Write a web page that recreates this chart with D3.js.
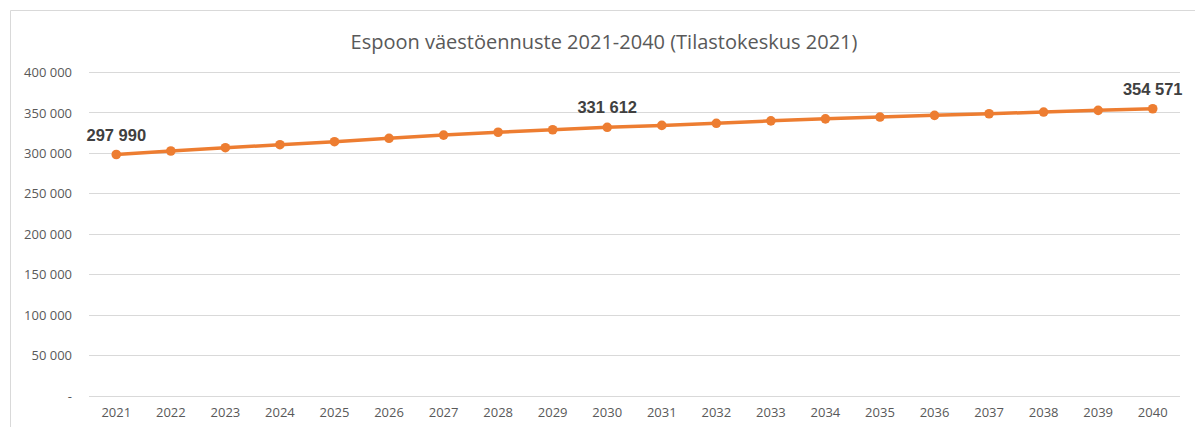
<!DOCTYPE html>
<html>
<head>
  <meta charset="utf-8">
  <script src="https://d3js.org/d3.v7.min.js"></script>
  <style>
    body { margin: 0; background: #fff; }
    .grid line { stroke: #d9d9d9; stroke-width: 1px; }
    .axis text { fill: #595959; font-family: "Open Sans", sans-serif; font-size: 13px; }
    .line { fill: none; stroke: #ED7D31; stroke-width: 3.5px; }
    .dot { fill: #ED7D31; }
    .lbl { fill: #404040; font-family: "Liberation Sans", Arial, sans-serif; font-size: 16.5px; font-weight: bold; }
    .title { fill: #595959; font-family: "Open Sans", sans-serif; font-size: 20px; }
  </style>
</head>
<body>
  <svg width="1195" height="427"></svg>
  <script>
    var years = ["2021","2022","2023","2024","2025","2026","2027","2028","2029","2030",
                 "2031","2032","2033","2034","2035","2036","2037","2038","2039","2040"];
    var population = [297990, 302300, 306400, 310100, 313800, 318000, 322000, 325500, 328600, 331612,
                      334000, 336600, 339600, 342100, 344300, 346400, 348400, 350500, 352600, 354571];
    var yTicks = [0, 50000, 100000, 150000, 200000, 250000, 300000, 350000, 400000];
    var labelled = ["2021", "2030", "2040"];

    var svg = d3.select("svg"),
      margin = { top: 72, right: 15, bottom: 32, left: 89 },
      width = 1180 - margin.left,
      height = 395.5 - margin.top;

    // chart frame (only top and left edges visible in the crop)
    svg.append("path")
      .attr("d", "M10.5,427 V10.5 H1195")
      .attr("fill", "none")
      .attr("stroke", "#d9d9d9");

    svg.append("text")
      .attr("class", "title")
      .attr("x", 604)
      .attr("y", 49)
      .attr("text-anchor", "middle")
      .text("Espoon väestöennuste 2021-2040 (Tilastokeskus 2021)");

    var g = svg.append("g")
      .attr("transform", "translate(" + margin.left + "," + margin.top + ")");

    var x = d3.scaleBand().domain(years).range([0, width]);
    var y = d3.scaleLinear().domain([0, 400000]).range([height, 0]);

    var fmt = function(d) {
      return d === 0 ? "-" : d3.format(",")(d).replace(/,/g, " ");
    };

    g.append("g")
      .attr("class", "grid")
      .selectAll("line")
      .data(yTicks)
      .enter().append("line")
      .attr("x1", 0).attr("x2", width)
      .attr("y1", function(d) { return Math.round(y(d)) + 0.5; })
      .attr("y2", function(d) { return Math.round(y(d)) + 0.5; });

    var yAxis = g.append("g")
      .attr("class", "axis")
      .call(d3.axisLeft(y).tickValues(yTicks).tickFormat(fmt).tickSize(0).tickPadding(17));
    yAxis.select(".domain").remove();
    yAxis.selectAll("text").attr("dy", "0.35em");

    var xAxis = g.append("g")
      .attr("class", "axis")
      .attr("transform", "translate(0," + height + ")")
      .call(d3.axisBottom(x).tickSize(0).tickPadding(12));
    xAxis.select(".domain").remove();

    var line = d3.line()
      .x(function(d, i) { return x(years[i]) + x.bandwidth() / 2; })
      .y(function(d) { return y(d); });

    g.append("path")
      .datum(population)
      .attr("class", "line")
      .attr("d", line);

    g.selectAll(".dot")
      .data(population)
      .enter().append("circle")
      .attr("class", "dot")
      .attr("cx", function(d, i) { return x(years[i]) + x.bandwidth() / 2; })
      .attr("cy", function(d) { return y(d); })
      .attr("r", 4.8);

    var labelData = years.map(function(yr, i) { return { year: yr, value: population[i] }; })
      .filter(function(d) { return labelled.indexOf(d.year) >= 0; });

    g.selectAll(".lbl")
      .data(labelData)
      .enter().append("text")
      .attr("class", "lbl")
      .attr("x", function(d) { return x(d.year) + x.bandwidth() / 2; })
      .attr("y", function(d) { return y(d.value) - 14; })
      .attr("text-anchor", "middle")
      .text(function(d) { return fmt(d.value); });
  </script>
</body>
</html>
